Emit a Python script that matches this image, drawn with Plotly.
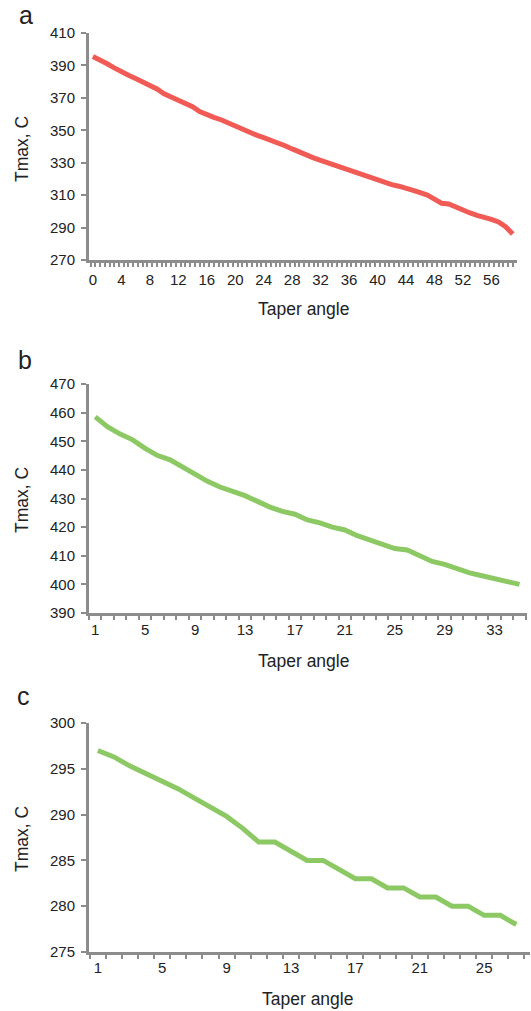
import plotly.graph_objects as go

# ---- data ----
angle_a = list(range(0, 60))
tmax_a = [395.5, 393.5, 391, 388.5, 386, 384, 382, 380, 377.5, 375.5,
          372.5, 370.5, 368.5, 367, 364.5, 361.5, 359.5, 358, 356.5, 354.5,
          352.5, 351, 349, 347, 345.5, 344, 342.5, 340.5, 338.5, 336.5,
          334.5, 333, 331.5, 330, 328.5, 327, 325.5, 324, 322, 320.5,
          319.5, 318, 316.5, 315.5, 314.5, 313, 311.5, 310, 307.5, 305,
          304.5, 302.5, 300.5, 299, 297.5, 296.5, 295, 293.5, 290.5, 286]

angle_b = list(range(1, 36))
tmax_b = [458.5, 455, 452.5, 450.5, 447.5, 445, 443.5, 441, 438, 436,
          434, 432.5, 431, 429, 427, 425.5, 424.5, 422.5, 421.5, 420,
          419, 417, 415.5, 414, 412.5, 412, 410, 408, 407, 405.5,
          404, 403, 402, 401, 400]

angle_c = list(range(1, 28))
tmax_c = [297, 296.3, 295.3, 294.5, 293.7, 292.8, 291.8, 290.8, 289.8, 288.5,
          287, 287, 286, 285, 285, 284, 283, 283, 282, 282,
          281, 281, 280, 280, 279, 279, 278]

ticks_a = list(range(0, 57, 4))
ticks_b = list(range(1, 34, 4))
ticks_c = list(range(1, 26, 4))

RED = "#f15b56"
GREEN = "#8cc964"
GRAY = "#8c8c8c"
FONT = "Liberation Sans, Arial, sans-serif"

W, H = 531, 1011


def px_x(p):
    return min(1.0, max(0.0, p / W))


def px_y(p):
    return min(1.0, max(0.0, 1 - p / H))


fig = go.Figure()
fig.add_trace(go.Scatter(x=angle_a, y=tmax_a, mode="lines",
                         line=dict(color=RED, width=5), xaxis="x", yaxis="y"))
fig.add_trace(go.Scatter(x=angle_b, y=tmax_b, mode="lines",
                         line=dict(color=GREEN, width=5), xaxis="x2", yaxis="y2"))
fig.add_trace(go.Scatter(x=angle_c, y=tmax_c, mode="lines",
                         line=dict(color=GREEN, width=5), xaxis="x3", yaxis="y3"))


def xax(domain, rng, tickvals, anchor, minor_dtick, minor_tick0, standoff):
    return dict(domain=domain, range=rng, anchor=anchor, tickvals=tickvals,
                automargin=False,
                showgrid=False, zeroline=False, showline=True,
                linecolor=GRAY, linewidth=3, ticks="", ticklabelstandoff=standoff,
                tickfont=dict(family=FONT, size=15, color="#222"),
                minor=dict(ticks="outside", ticklen=4, tickwidth=2,
                           tickcolor=GRAY, dtick=minor_dtick, tick0=minor_tick0,
                           showgrid=False))


def yax(domain, rng, dtick, anchor):
    return dict(domain=domain, range=rng, anchor=anchor, dtick=dtick, tick0=rng[0],
                automargin=False,
                showgrid=False, zeroline=False, showline=True,
                linecolor=GRAY, linewidth=3, ticks="outside", ticklen=5,
                tickwidth=2, tickcolor=GRAY, ticklabelstandoff=3,
                tickfont=dict(family=FONT, size=15, color="#222"))


fig.update_layout(
    width=W, height=H, margin=dict(l=0, r=0, t=0, b=0, autoexpand=False),
    paper_bgcolor="white", plot_bgcolor="white", showlegend=False,
    xaxis=xax([px_x(89), px_x(517)], [-0.55, 59.6], ticks_a, "y", 2 / 3, -1 / 3, 4),
    yaxis=yax([px_y(260), px_y(33)], [270, 410], 20, "x"),
    xaxis2=xax([px_x(89), px_x(527)], [0.5, 35.6], ticks_b, "y2", 1, 0.5, 1),
    yaxis2=yax([px_y(613), px_y(384)], [390, 470], 10, "x2"),
    xaxis3=xax([px_x(89), px_x(530)], [0.45, 27.85], ticks_c, "y3", 1, 0.5, 0),
    yaxis3=yax([px_y(952), px_y(723)], [275, 300], 5, "x3"),
)

ann_font = dict(family=FONT, size=17.5, color="#222")
annotations = []
for letter, lx, ly in [("a", 25.5, 15), ("b", 25, 360), ("c", 23, 696)]:
    annotations.append(dict(text=letter, x=px_x(lx), y=px_y(ly), xref="paper", yref="paper",
                            xanchor="center", yanchor="middle", showarrow=False,
                            font=dict(family=FONT, size=25, color="#222")))
for ty, xc in [(309, 303), (661, 303), (999, 307)]:
    annotations.append(dict(text="Taper angle", x=px_x(xc), y=px_y(ty), xref="paper",
                            yref="paper", xanchor="center", yanchor="middle",
                            showarrow=False, font=ann_font))
for ty in [149, 500, 839]:
    annotations.append(dict(text="Tmax, C", x=px_x(22), y=px_y(ty), xref="paper",
                            yref="paper", xanchor="center", yanchor="middle",
                            textangle=-90, showarrow=False, font=ann_font))
fig.update_layout(annotations=annotations)

# pin the plot to the page origin so the page is exactly the figure's size
pin_js = (
    "document.documentElement.style.margin='0';"
    "document.body.style.margin='0';"
    "document.documentElement.style.overflow='hidden';"
    "var gd=document.getElementById('{plot_id}');"
    "gd.style.position='absolute';gd.style.left='0px';gd.style.top='0px';"
)

fig.write_html("out.html", post_script=pin_js, config={"displayModeBar": False})
